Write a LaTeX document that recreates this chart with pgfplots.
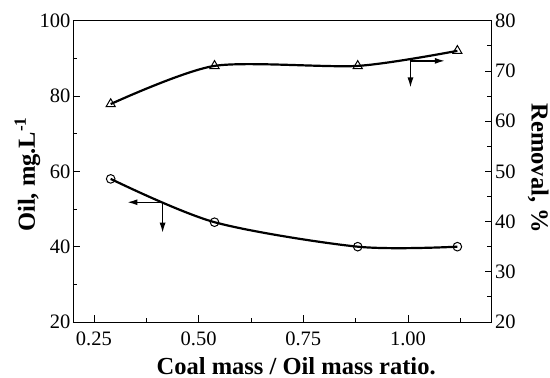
\documentclass[border=0pt]{standalone}
\usepackage{pgfplots}
\pgfplotsset{compat=1.18}
\usetikzlibrary{arrows.meta}
\usepackage{fontspec}
\setmainfont{Liberation Serif}
\begin{document}
\begin{tikzpicture}
\pgfplotsset{
  common/.style={
    at={(0pt,0pt)}, anchor=south west,
    scale only axis, width=418.7pt, height=301.3pt,
    xmin=0.2, xmax=1.2,
    xtick={0.25,0.5,0.75,1.0},
    minor xtick={0.375,0.625,0.875,1.125},
    xticklabel style={yshift=-6.5pt, /pgf/number format/fixed, /pgf/number format/fixed zerofill, /pgf/number format/precision=2},
    tick align=inside,
    major tick length=7pt, minor tick length=4.5pt,
    tick style={black, line width=0.8pt},
    axis line style={line width=0.9pt},
    /pgf/number format/assume math mode=true,
    tick label style={font=\fontsize{20.5}{24}\selectfont},
    clip=false,
  }
}
\begin{axis}[common,
  ymin=20, ymax=100, ytick={20,40,...,100}, minor ytick={30,50,70,90},
  ytick pos=left, xtick pos=bottom,
  yticklabel style={xshift=1pt},
  xlabel={Coal mass / Oil mass ratio.},
  ylabel={Oil, mg.L\textsuperscript{-1}},
  every axis x label/.style={at={(axis description cs:0.533,0)}, anchor=base, yshift=-52pt, font=\bfseries\fontsize{24.5}{28}\selectfont},
  every axis y label/.style={at={(axis description cs:0,0.49)}, rotate=90, anchor=base, yshift=38pt, font=\bfseries\fontsize{24.5}{28}\selectfont},
]
\addplot[black, line width=2.2pt, smooth, mark=o, mark size=4.3pt,
  mark options={solid, fill=white, line width=1pt}]
  coordinates {(0.29,58) (0.538,46.5) (0.88,40) (1.118,40)};
\draw[line width=1.3pt, -{Latex[length=10pt,width=6pt]}] (axis cs:0.414,51.8) -- (axis cs:0.33,51.8);
\draw[line width=1.3pt, -{Latex[length=10pt,width=6pt]}] (axis cs:0.414,51.8) -- (axis cs:0.414,43.7);
\end{axis}
\begin{axis}[common,
  ymin=20, ymax=80, ytick={20,30,...,80}, minor ytick={25,35,...,75},
  axis y line*=right, axis x line=none,
  ylabel={Removal, \%},
  every axis y label/.style={at={(axis description cs:1,0.51)}, rotate=-90, anchor=base, yshift=40pt, font=\bfseries\fontsize{24.5}{28}\selectfont},
]
\addplot[black, line width=2.2pt, smooth, tension=0.45, mark=triangle, mark size=5.3pt,
  mark options={solid, fill=white, line width=1pt}]
  coordinates {(0.29,63.4) (0.538,71) (0.88,71) (1.118,74)};
\draw[line width=1.3pt, -{Latex[length=10pt,width=6pt]}] (axis cs:1.006,72) -- (axis cs:1.088,72);
\draw[line width=1.3pt, -{Latex[length=10pt,width=6pt]}] (axis cs:1.006,72) -- (axis cs:1.006,66.7);
\end{axis}
\pgfresetboundingbox
\path (-73pt,-56pt) rectangle (477pt,322pt);
\end{tikzpicture}
\end{document}
